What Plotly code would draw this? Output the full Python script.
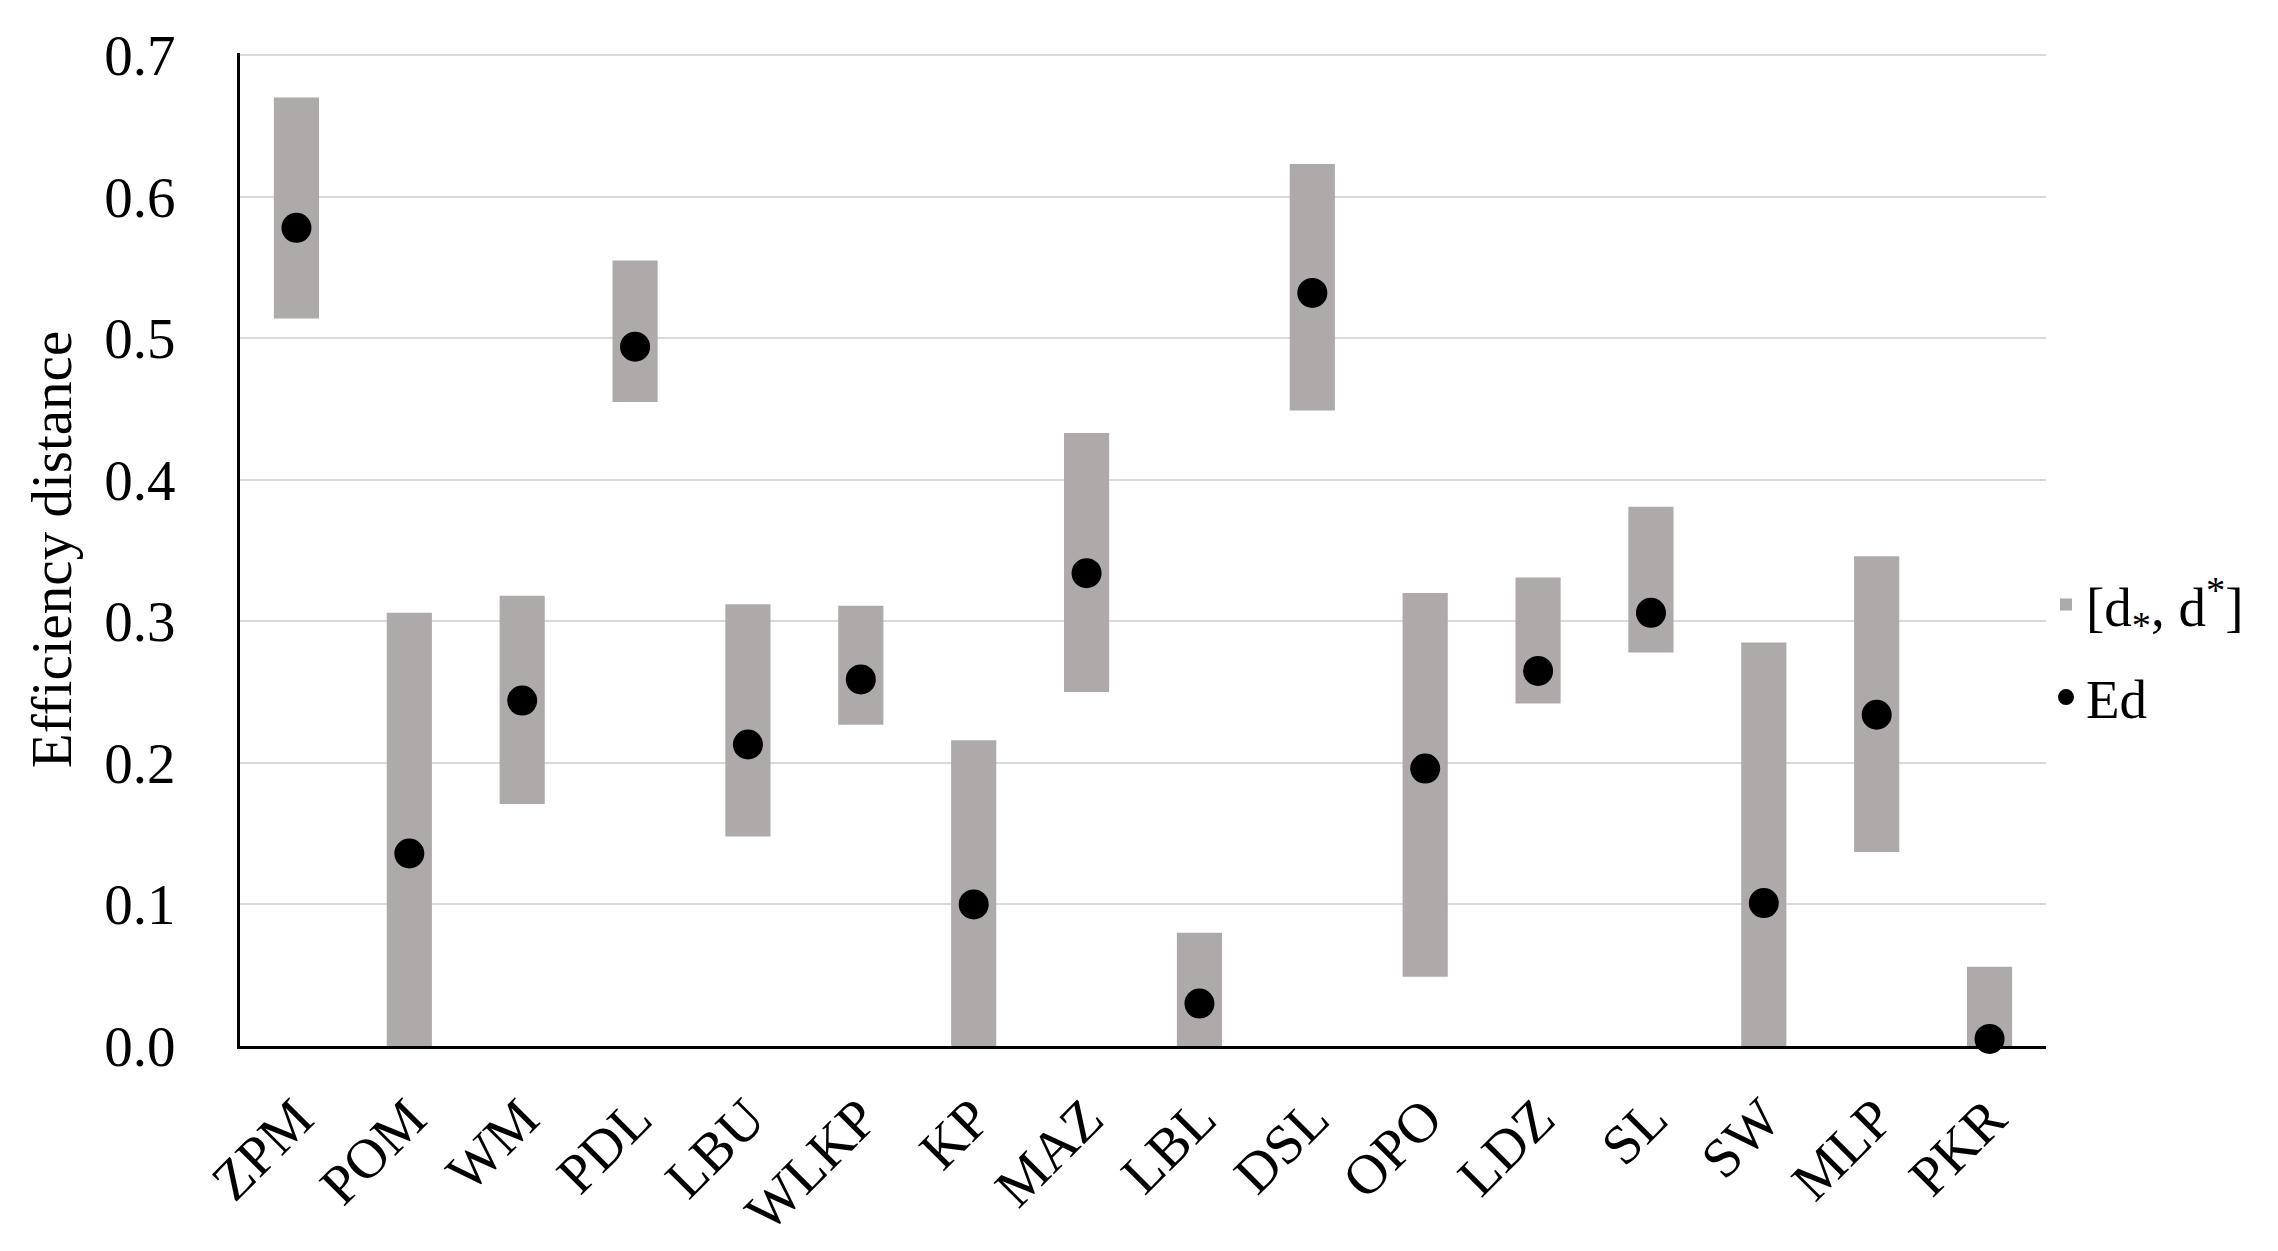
import plotly.graph_objects as go

regions = ["ZPM", "POM", "WM", "PDL", "LBU", "WLKP", "KP", "MAZ", "LBL", "DSL",
           "OPO", "LDZ", "SL", "SW", "MLP", "PKR"]
d_lower = [0.514, 0.0, 0.171, 0.455, 0.148, 0.227, 0.0, 0.250, 0.0, 0.449,
           0.049, 0.242, 0.278, 0.0, 0.137, 0.0]
d_upper = [0.670, 0.306, 0.318, 0.555, 0.312, 0.311, 0.216, 0.433, 0.080, 0.623,
           0.320, 0.331, 0.381, 0.285, 0.346, 0.056]
ed = [0.578, 0.136, 0.244, 0.494, 0.213, 0.259, 0.100, 0.334, 0.030, 0.532,
      0.196, 0.265, 0.306, 0.101, 0.234, 0.005]
y_ticks = [0.0, 0.1, 0.2, 0.3, 0.4, 0.5, 0.6, 0.7]

FONT = "Liberation Serif, Times New Roman, serif"

fig = go.Figure()
fig.add_trace(go.Bar(
    x=regions,
    y=[u - l for u, l in zip(d_upper, d_lower)],
    base=d_lower,
    marker=dict(color="#ADAAA9", line=dict(width=0)),
    name="[d<sub>*</sub>, d<sup>*</sup>]",
    legendgroup="a",
))
fig.add_trace(go.Scatter(
    x=regions, y=ed, mode="markers",
    marker=dict(color="black", size=30),
    name="Ed", cliponaxis=False,
    legendgroup="b",
))

# page body has an 8px default margin, so the figure is offset by 8px
fig.update_layout(
    width=2270, height=1243,
    margin=dict(l=232, r=232, t=45, b=205),
    paper_bgcolor="white", plot_bgcolor="white",
    font=dict(family=FONT, size=56, color="black"),
    bargap=0.6,
    showlegend=True,
    legend=dict(x=1.0, xanchor="left", y=0.398, yanchor="middle",
                font=dict(family=FONT, size=55, color="black"),
                itemsizing="trace", traceorder="grouped", tracegroupgap=18,
                itemwidth=30,
                bgcolor="rgba(0,0,0,0)"),
)
fig.update_yaxes(
    range=[0, 0.7015], tickvals=y_ticks,
    tickformat=".1f",
    showgrid=True, gridcolor="#D9D9D9", gridwidth=2,
    showline=True, linecolor="black", linewidth=3,
    zeroline=False, automargin=False,
    ticks="", ticklabelstandoff=50,
    tickfont=dict(family=FONT, size=57, color="black"),
    title=dict(text="Efficiency distance", font=dict(family=FONT, size=57, color="black"),
               standoff=15),
)
fig.update_xaxes(
    range=[-0.5, len(regions) - 0.5],
    showline=True, linecolor="black", linewidth=3,
    showgrid=False, ticks="", tickangle=-45, automargin=False,
    ticklabelstandoff=14,
    tickfont=dict(family=FONT, size=56, color="black"),
)

fig.write_html("out.html")
